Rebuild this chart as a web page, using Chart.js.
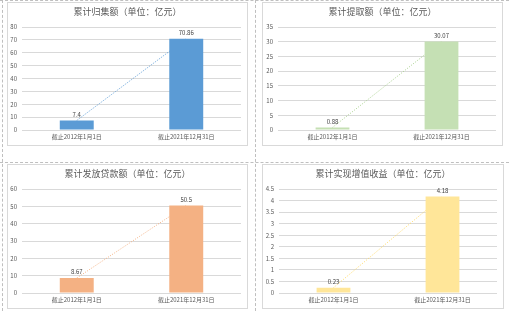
<!DOCTYPE html>
<html><head><meta charset="utf-8">
<script src="https://cdn.jsdelivr.net/npm/chart.js@4"></script>
<style>
html,body{margin:0;padding:0;background:#fff;width:509px;height:311px;overflow:hidden;font-family:"Noto Sans CJK SC",sans-serif;}
.box{position:absolute;border:1px solid #D9D9D9;box-sizing:border-box;background:#fff;overflow:hidden;}
.box canvas{position:absolute;left:-1px;top:-1px;}
.ttl{position:absolute;left:0;right:0;text-align:center;font-size:9px;color:#595959;line-height:10px;white-space:nowrap;}
.dv{position:absolute;top:0;width:0;height:311px;border-left:1px dashed #BFBFBF;}
.dh{position:absolute;left:0;width:509px;height:0;border-top:1px dashed #BFBFBF;}
</style></head><body>
<div class="dh" style="top:0px"></div>
<div class="dh" style="top:162px"></div>
<div class="dv" style="left:2px"></div>
<div class="dv" style="left:255px"></div>
<div id="root"></div>
<script>
const categories = ["截止2012年1月1日", "截止2021年12月31日"];
const titles = ["累计归集额（单位：亿元）", "累计提取额（单位：亿元）", "累计发放贷款额（单位：亿元）", "累计实现增值收益（单位：亿元）"];
const collected = [7.4, 70.86];
const withdrawn = [0.88, 30.07];
const loans = [8.67, 50.5];
const returns = [0.23, 4.18];
const yMax = [80, 35, 60, 4.5];
const yStep = [10, 5, 10, 0.5];

const series = [collected, withdrawn, loans, returns];
const barColors = ["#5B9BD5", "#C5E0B4", "#F4B183", "#FFE699"];
const lineColors = ["#5B9BD5", "#A9D18E", "#F4B183", "#FFD966"];
const boxes = [
  {l:7, t:2, w:241, h:144, yw:15, pr:7},
  {l:262, t:2, w:241, h:144, yw:16, pr:7},
  {l:7, t:164, w:241, h:145, yw:15, pr:7},
  {l:262, t:164, w:242, h:145, yw:17, pr:7}
];

const labelPlugin = {
  id: 'vlabels',
  afterDatasetsDraw(chart) {
    const ctx = chart.ctx;
    const meta = chart.getDatasetMeta(0);
    ctx.save();
    ctx.font = '6px "Noto Sans CJK SC", sans-serif';
    ctx.fillStyle = '#404040';
    ctx.textAlign = 'center';
    ctx.textBaseline = 'bottom';
    meta.data.forEach((el, i) => {
      ctx.fillText(String(chart.data.datasets[0].data[i]), el.x, el.y - 3);
    });
    ctx.restore();
  }
};

const root = document.getElementById('root');
boxes.forEach((b, k) => {
  const d = document.createElement('div');
  d.className = 'box';
  d.style.left = b.l + 'px'; d.style.top = b.t + 'px';
  d.style.width = b.w + 'px'; d.style.height = b.h + 'px';
  const t = document.createElement('div');
  t.className = 'ttl'; t.textContent = titles[k]; t.style.top = '4px';
  const c = document.createElement('canvas');
  c.width = b.w; c.height = b.h;
  c.style.width = b.w + 'px'; c.style.height = b.h + 'px';
  d.appendChild(c); d.appendChild(t);
  root.appendChild(d);
  new Chart(c, {
    data: {
      labels: categories,
      datasets: [
        {type:'bar', data: series[k], backgroundColor: barColors[k], categoryPercentage:1, barPercentage:0.31, order:1},
        {type:'line', data: series[k], borderColor: lineColors[k], borderWidth:1, borderDash:[1,1.5], pointRadius:0, fill:false, order:2}
      ]
    },
    options: {
      responsive:false, animation:false, devicePixelRatio:1,
      layout:{padding:{top:25, right:b.pr, left:0, bottom:0}},
      plugins:{legend:{display:false}, tooltip:{enabled:false}, title:{display:false}},
      scales:{
        x:{grid:{display:false, drawTicks:false}, border:{display:false},
           ticks:{color:'#595959', font:{size:6, family:'"Noto Sans CJK SC", sans-serif'}, padding:3, maxRotation:0},
           afterFit(s){ s.height = 16; }},
        y:{min:0, max:yMax[k], grid:{color:'#D9D9D9', drawTicks:false}, border:{display:false},
           ticks:{stepSize:yStep[k], color:'#595959', font:{size:6, family:'"Noto Sans CJK SC", sans-serif'}, padding:5,
                  callback:(v)=>String(Math.round(v*10)/10)},
           afterFit(s){ s.width = b.yw; }}
      }
    },
    plugins:[labelPlugin]
  });
});
</script>
</body></html>
